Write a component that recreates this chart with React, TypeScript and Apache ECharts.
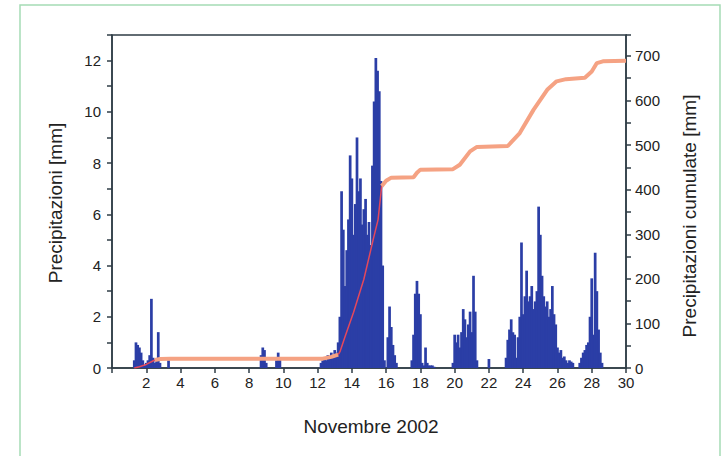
import React, { useEffect, useRef } from "react";
import * as echarts from "echarts";

// Hourly-ish precipitation read at 0.1-day resolution, grouped in rain episodes
const STEP = 0.1;
const rainStarts = [1.3, 8.7, 12.2, 17.5, 19.9, 22.0, 23.0, 27.3];
const rain1 = [0.3, 1.0, 0.9, 0.8, 0.6, 0.3, 0.1, 0.2, 0.3, 0.5, 2.7, 0.4, 0.2, 0.3, 1.4, 0.2, 0, 0, 0, 0, 0.3];
const rain2 = [0.5, 0.8, 0.7, 0.2, 0, 0, 0, 0, 0, 0.3, 0.6, 0.4];
const rain3 = [
  0.2, 0.3, 0.4, 0.3, 0.5, 0.4, 0.6, 0.5, 0.7, 0.6, 1.0, 2.0, 6.9, 5.4, 3.2, 4.6, 5.8, 8.3, 7.4, 5.2,
  6.4, 9.0, 6.9, 7.4, 5.6, 6.2, 6.6, 5.2, 5.7, 4.8, 7.9, 10.4, 12.1, 11.6, 10.8, 7.3, 4.0, 0.3, 0, 1.2,
  2.4, 1.6, 0.9, 0.5, 0.2,
];
const rain4 = [0.3, 1.3, 2.9, 3.4, 2.9, 2.1, 0.2, 0.1, 0.8, 0.2, 0.1, 0.1, 0.1, 0.05];
const rain5 = [0.2, 1.3, 1.0, 1.3, 0.8, 1.4, 2.3, 1.9, 1.2, 1.7, 2.2, 1.4, 3.6, 2.2, 0.3];
const rain6 = [0.35];
const rain7 = [
  0.4, 1.1, 1.5, 1.9, 1.4, 1.3, 0.4, 1.2, 2.0, 4.9, 2.1, 2.8, 3.8, 2.6, 2.8, 3.2, 2.3, 2.6, 3.0, 6.3,
  5.2, 3.6, 2.8, 2.4, 2.6, 2.0, 2.3, 3.2, 2.1, 1.7, 0.8, 0.6, 0.7, 0.4, 0.45, 0.3, 0.2, 0.3, 0.25, 0.2,
];
const rain8 = [0.2, 0.4, 0.6, 0.7, 0.9, 1.0, 2.0, 3.5, 1.3, 4.5, 3.0, 1.5, 0.6, 0.2];
const rainEpisodes = [rain1, rain2, rain3, rain4, rain5, rain6, rain7, rain8];

// Cumulative precipitation (right axis)
const cumDays = [
  1.3, 1.6, 2.0, 2.3, 2.5, 2.8, 3.4, 12.3, 12.8, 13.2, 13.3, 13.6, 14.1, 14.7, 15.25, 15.53, 15.74,
  16.0, 16.3, 17.6, 17.8, 18.0, 19.9, 20.3, 20.9, 21.3, 23.1, 23.8, 24.6, 25.4, 25.95, 26.5, 27.6,
  28.0, 28.3, 28.65, 30,
];
const cumValues = [
  0, 3, 8, 14, 18, 20, 21, 21, 25, 30, 36, 70, 125, 199, 289, 333, 408,
  420, 427, 428, 438, 445, 446, 456, 486, 496, 498, 527, 579, 624, 643, 648, 651,
  665, 684, 688, 689,
];
// Line segments: [from, to, colour, width]
const redColor = "#e4485c";
const orangeColor = "#f5a283";
const lineSegments: [number, number, string, number][] = [
  [1.3, 2.5, redColor, 1.5],
  [2.5, 13.2, orangeColor, 4],
  [13.2, 15.74, redColor, 1.5],
  [15.74, 30, orangeColor, 4],
];

const axisColor = "#2f3c46";
const textColor = "#222";

export default function App() {
  const ref = useRef<HTMLDivElement>(null);
  useEffect(() => {
    if (!ref.current) return;
    const chart = echarts.init(ref.current, undefined, { renderer: "svg" });
    const barData: [number, number][] = [];
    rainEpisodes.forEach((ep, i) => {
      ep.forEach((v, j) => {
        barData.push([Math.round((rainStarts[i] + j * STEP) * 100) / 100, v]);
      });
    });
    const cumPoints = cumDays.map((d, i) => [d, cumValues[i]]);
    const lineSeries = lineSegments.map(([from, to, color, width]) => ({
      type: "line",
      yAxisIndex: 1,
      data: cumPoints.filter((p) => p[0] >= from && p[0] <= to),
      symbol: "none",
      lineStyle: { color, width },
      z: 5,
    }));
    const font = "Liberation Sans, Arial, sans-serif";
    chart.setOption({
      animation: false,
      backgroundColor: "#fff",
      grid: {
        left: 112,
        right: 99,
        top: 35,
        bottom: 88,
        show: true,
        borderColor: axisColor,
        borderWidth: 1.5,
      },
      xAxis: {
        type: "value",
        min: 0,
        max: 30,
        interval: 2,
        axisLine: { show: true, lineStyle: { color: axisColor, width: 1.5 } },
        axisTick: { show: true, length: 5, lineStyle: { color: axisColor, width: 1.5 } },
        axisLabel: {
          formatter: (v: number) => (v === 0 ? "" : String(v)),
          fontFamily: font,
          fontSize: 15,
          color: textColor,
          margin: 7,
        },
        splitLine: { show: false },
      },
      yAxis: [
        {
          type: "value",
          min: 0,
          max: 13,
          interval: 1,
          position: "left",
          axisLine: { show: true, lineStyle: { color: axisColor, width: 1.5 } },
          axisTick: { show: true, length: 5, lineStyle: { color: axisColor, width: 1.5 } },
          axisLabel: {
            formatter: (v: number) => (v % 2 === 0 ? String(v) : ""),
            fontFamily: font,
            fontSize: 15,
            color: textColor,
            margin: 11,
          },
          splitLine: { show: false },
        },
        {
          type: "value",
          min: 0,
          max: 747,
          interval: 50,
          position: "right",
          axisLine: { show: true, lineStyle: { color: axisColor, width: 1.5 } },
          axisTick: { show: true, length: 5, lineStyle: { color: axisColor, width: 1.5 } },
          axisLabel: {
            formatter: (v: number) => (v % 100 === 0 ? String(v) : ""),
            fontFamily: font,
            fontSize: 15,
            color: textColor,
            margin: 9,
          },
          splitLine: { show: false },
        },
      ],
      graphic: [
        {
          type: "rect",
          shape: { x: 20, y: 5, width: 700, height: 480 },
          style: { fill: "none", stroke: "#a5dbb5", lineWidth: 1.5 },
          silent: true,
        },
        {
          type: "text",
          x: 55,
          y: 203,
          rotation: Math.PI / 2,
          style: {
            text: "Precipitazioni [mm]",
            fontFamily: font,
            fontSize: 19,
            fill: textColor,
            textAlign: "center",
            textVerticalAlign: "middle",
          },
        },
        {
          type: "text",
          x: 689,
          y: 216,
          rotation: Math.PI / 2,
          style: {
            text: "Precipitazioni cumulate [mm]",
            fontFamily: font,
            fontSize: 19,
            fill: textColor,
            textAlign: "center",
            textVerticalAlign: "middle",
          },
        },
        {
          type: "text",
          x: 371,
          y: 426,
          style: {
            text: "Novembre 2002",
            fontFamily: font,
            fontSize: 19,
            fill: textColor,
            textAlign: "center",
            textVerticalAlign: "middle",
          },
        },
      ],
      series: [
        {
          type: "custom",
          yAxisIndex: 0,
          data: barData,
          encode: { x: 0, y: 1 },
          z: 2,
          renderItem: (_params: any, api: any) => {
            const x = api.value(0);
            const y = api.value(1);
            const base = api.coord([x, 0]);
            const top = api.coord([x, y]);
            const w = api.size([STEP, 0])[0];
            return {
              type: "rect",
              shape: {
                x: base[0] - w / 2 - 0.5,
                y: top[1],
                width: w + 1,
                height: base[1] - top[1],
              },
              style: { fill: "#2b3ea6" },
            };
          },
        },
        ...lineSeries,
      ],
    });
    return () => chart.dispose();
  }, []);
  return (
    <div
      ref={ref}
      style={{ position: "absolute", left: 0, top: 0, width: 725, height: 456 }}
    />
  );
}
